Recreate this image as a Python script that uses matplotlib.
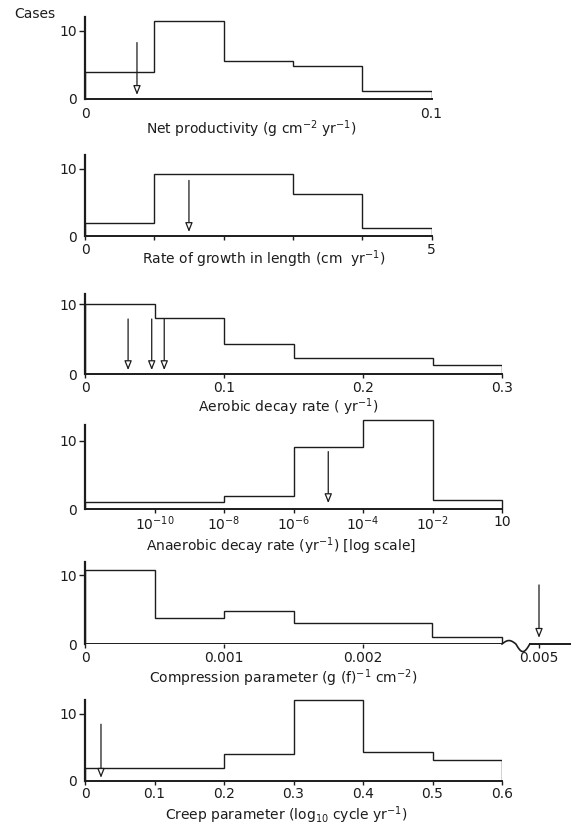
import numpy as np
import matplotlib.pyplot as plt

plt.rcParams['font.family'] = 'DejaVu Sans'
plt.rcParams['mathtext.default'] = 'regular'

W, H = 571, 831
INK = '#1c1c1c'

# net productivity
prod_edges = [0, 0.02, 0.04, 0.06, 0.08, 0.1]
prod_cases = [4, 11.5, 5.6, 4.9, 1.2]
prod_arrows = [0.015]

# rate of growth in length
growth_edges = [0, 1, 2, 3, 4, 5]
growth_cases = [2, 9.3, 9.3, 6.2, 1.2]
growth_arrows = [1.5]

# aerobic decay rate
aer_edges = [0, 0.05, 0.1, 0.15, 0.25, 0.3]
aer_cases = [10, 8, 4.4, 2.3, 1.3]
aer_arrows = [0.031, 0.048, 0.057]

# anaerobic decay rate, log10 (schematic axis, last tick labelled 10)
anaer_edges = [-12, -8, -6, -4, -2, 0]
anaer_cases = [1, 2, 9, 13, 1.3]
anaer_arrows = [-5]
anaer_ticks = [-10, -8, -6, -4, -2, 0]
anaer_labels = [r'$10^{-10}$', r'$10^{-8}$', r'$10^{-6}$', r'$10^{-4}$', r'$10^{-2}$', '10']

# compression parameter (axis broken after 0.003)
comp_edges = [0, 0.0005, 0.001, 0.0015, 0.0025, 0.003]
comp_cases = [10.8, 3.8, 4.8, 3, 1]
comp_arrows = [0.005]

# creep parameter
creep_edges = [0, 0.2, 0.3, 0.4, 0.5, 0.6]
creep_cases = [1.8, 4, 12, 4.2, 3]
creep_arrows = [0.023]

fig = plt.figure(figsize=(W / 100, H / 100), dpi=100)
fig.patch.set_facecolor('white')


def panel(zero, ppc, top, x_end, xlim, bottom_spine=True):
    ax = fig.add_axes([85 / W, (H - zero) / H, (x_end - 85) / W, 14 * ppc / H])
    ax.set_xlim(*xlim)
    ax.set_ylim(0, 14)
    ax.patch.set_visible(False)
    ax.spines['top'].set_visible(False)
    ax.spines['right'].set_visible(False)
    ax.spines['bottom'].set_visible(bottom_spine)
    ax.spines['left'].set_bounds(0, (zero - top) / ppc)
    ax.spines['left'].set_linewidth(1.6)
    ax.spines['bottom'].set_linewidth(1.4)
    ax.spines['left'].set_color(INK)
    ax.spines['bottom'].set_color(INK)
    ax.set_yticks([0, 10], ['0', '10'])
    ax.tick_params(axis='y', length=4, width=1, pad=2, labelsize=10,
                   colors=INK)
    ax.yaxis.get_major_ticks()[0].tick1line.set_visible(False)
    ax.tick_params(axis='x', length=3, width=1, pad=2, labelsize=10,
                   colors=INK)
    return ax


def arrows(ax, xs, top=8.3, bot=0.6):
    for x in xs:
        ax.annotate('', xy=(x, bot), xytext=(x, top),
                    arrowprops=dict(arrowstyle='-|>,head_length=0.55,head_width=0.22',
                                    fc='white', ec=INK, lw=0.9,
                                    shrinkA=0, shrinkB=0))


def label(x, y, s):
    fig.text(x / W, 1 - y / H, s, ha='center', va='center', fontsize=10,
             color=INK)


fig.text(35 / W, 1 - 14 / H, 'Cases', ha='center', va='center',
         fontsize=10, color=INK)

# 1
ax = panel(99, 6.8, 17, 431.5, (0, 0.1))
ax.stairs(prod_cases, prod_edges, color=INK, lw=1.0)
arrows(ax, prod_arrows)
ax.set_xticks([0, 0.1], ['0', '0.1'])
ax.tick_params(axis='x', length=0, pad=6)
label(251, 129, r'Net productivity (g cm$^{-2}$ yr$^{-1}$)')

# 2
ax = panel(236, 6.7, 155, 431.5, (0, 5))
ax.stairs(growth_cases, growth_edges, color=INK, lw=1.0)
arrows(ax, growth_arrows)
ax.set_xticks(growth_edges, ['0', '', '', '', '', '5'])
label(264, 259, r'Rate of growth in length (cm  yr$^{-1}$)')

# 3
ax = panel(374.3, 7.0, 294, 502, (0, 0.3))
ax.stairs(aer_cases, aer_edges, color=INK, lw=1.0)
arrows(ax, aer_arrows, top=7.9)
ax.set_xticks([0, 0.1, 0.2, 0.3], ['0', '0.1', '0.2', '0.3'])
label(288, 407, r'Aerobic decay rate ( yr$^{-1}$)')

# 4
ax = panel(509.3, 6.87, 425, 502, (-12, 0))
ax.stairs(anaer_cases, anaer_edges, color=INK, lw=1.0, clip_on=False)
arrows(ax, anaer_arrows, top=8.4, bot=0.9)
ax.set_xticks(anaer_ticks, anaer_labels)
ax.tick_params(axis='x', pad=1)
label(281, 546, r'Anaerobic decay rate (yr$^{-1}$) [log scale]')

# 5, broken axis: values past the break are shifted left
brk_lo, brk_hi = 0.003, 0.0032
px_per_unit = 417 / 0.003
comp_xmax = (571 - 85) / px_per_unit
shift = (539 - 85) / px_per_unit - 0.005


def shown(x):
    return x if x <= brk_lo else x + shift


ax = panel(644, 6.87, 561.7, 571, (0, comp_xmax), bottom_spine=False)
ax.stairs(comp_cases, comp_edges, color=INK, lw=1.0)
ax.plot([0, brk_lo], [0, 0], color=INK, lw=1.4, solid_capstyle='butt')
t = np.linspace(0, 1, 60)
wig = np.sin(2 * np.pi * t) * np.where(t < 0.5, 0.5, 1.1)
ax.plot(brk_lo + t * (brk_hi - brk_lo), wig, color=INK, lw=1.2,
        clip_on=False)
ax.plot([brk_hi, comp_xmax], [0, 0], color=INK, lw=1.4, clip_on=False)
arrows(ax, [shown(x) for x in comp_arrows], top=8.6, bot=0.9)
ax.set_xticks([0, 0.001, 0.002, shown(0.005)], ['0', '0.001', '0.002', '0.005'])
label(283, 678, r'Compression parameter (g (f)$^{-1}$ cm$^{-2}$)')

# 6
ax = panel(780.5, 6.7, 700, 502, (0, 0.6))
ax.stairs(creep_cases, creep_edges, color=INK, lw=1.0)
arrows(ax, creep_arrows, top=8.4, bot=0.4)
ax.set_xticks([0, 0.1, 0.2, 0.3, 0.4, 0.5, 0.6],
              ['0', '0.1', '0.2', '0.3', '0.4', '0.5', '0.6'])
label(286, 815, r'Creep parameter (log$_{10}$ cycle yr$^{-1}$)')

fig.savefig('out.png', dpi=100, facecolor='white')
